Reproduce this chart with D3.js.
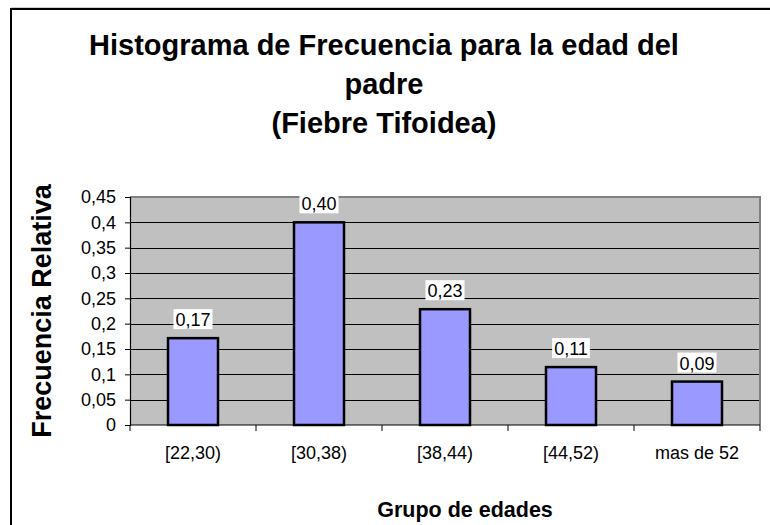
<!DOCTYPE html>
<html>
<head>
<meta charset="utf-8">
<script src="https://cdn.jsdelivr.net/npm/d3@7"></script>
<style>
  html, body { margin: 0; padding: 0; background: #fff; }
  svg { display: block; }
  text { font-family: "Liberation Sans", Arial, sans-serif; fill: #000; }
</style>
</head>
<body>
<svg id="chart" width="770" height="525"></svg>
<script>
// Age groups of the father and their relative frequency
const categories = ["[22,30)", "[30,38)", "[38,44)", "[44,52)", "mas de 52"];
const relFreq = [6 / 35, 14 / 35, 8 / 35, 4 / 35, 3 / 35];
const yTicks = [0, 0.05, 0.1, 0.15, 0.2, 0.25, 0.3, 0.35, 0.4, 0.45];
const titleLines = ["Histograma de Frecuencia para la edad del", "padre", "(Fiebre Tifoidea)"];

const svg = d3.select("#chart");
const plot = { left: 130, top: 197, right: 760, bottom: 425 };

const commaFmt = (digits) => (v) => d3.format("." + digits + "f")(v).replace(".", ",");
const tickFmt = (v) => String(+v.toFixed(2)).replace(".", ",");

// outer frame
svg.append("line").attr("x1", 11).attr("x2", 770).attr("y1", 7.5).attr("y2", 7.5)
  .attr("stroke", "#d0d0d0").attr("stroke-width", 1);
svg.append("path").attr("d", "M11,530 V9 H775").attr("fill", "none")
  .attr("stroke", "#000").attr("stroke-width", 2);

const xBand = d3.scaleBand().domain(categories).range([plot.left, plot.right]);
const y = d3.scaleLinear().domain([0, 0.45]).range([plot.bottom, plot.top]);
const cx = (c) => xBand(c) + xBand.bandwidth() / 2;

// plot background
svg.append("rect").attr("x", plot.left).attr("y", plot.top)
  .attr("width", plot.right - plot.left).attr("height", plot.bottom - plot.top)
  .attr("fill", "#c0c0c0");

// horizontal gridlines
svg.append("g").selectAll("line").data(yTicks.filter(d => d > 0 && d < 0.45)).join("line")
  .attr("x1", plot.left).attr("x2", plot.right)
  .attr("y1", d => Math.round(y(d)) + 0.5).attr("y2", d => Math.round(y(d)) + 0.5)
  .attr("stroke", "#000").attr("stroke-width", 1);

// plot border (top / right)
svg.append("path")
  .attr("d", `M${plot.left},${plot.top} H${plot.right} V${plot.bottom}`)
  .attr("fill", "none").attr("stroke", "#808080").attr("stroke-width", 2);

// bars
svg.append("g").selectAll("rect").data(relFreq).join("rect")
  .attr("x", (d, i) => cx(categories[i]) - 25)
  .attr("width", 50)
  .attr("y", d => y(d))
  .attr("height", d => y(0) - y(d))
  .attr("fill", "#9999ff").attr("stroke", "#000").attr("stroke-width", 2.5);

// y axis
const yAxis = d3.axisLeft(y).tickValues(yTicks).tickFormat(tickFmt).tickSizeOuter(0).tickSize(5).tickPadding(9);
const gy = svg.append("g").attr("transform", `translate(${plot.left},0)`).call(yAxis);
gy.select(".domain").attr("stroke", "#000").attr("stroke-width", 1.2);
gy.selectAll(".tick line").attr("stroke", "#000");
gy.selectAll(".tick text").attr("font-size", 18).attr("font-family", "Liberation Sans, Arial, sans-serif").attr("fill", "#000");

// x axis with ticks at category boundaries
const gx = svg.append("g").attr("transform", `translate(0,${plot.bottom})`);
gx.append("line").attr("x1", plot.left).attr("x2", plot.right).attr("y1", 0).attr("y2", 0)
  .attr("stroke", "#000").attr("stroke-width", 1.2);
const bounds = categories.map(c => xBand(c)).concat([plot.right]);
gx.selectAll("line.tk").data(bounds).join("line").attr("class", "tk")
  .attr("x1", d => d).attr("x2", d => d).attr("y1", 0).attr("y2", 6)
  .attr("stroke", "#000");
gx.selectAll("text").data(categories).join("text")
  .attr("x", d => cx(d))
  .attr("y", 34)
  .attr("text-anchor", "middle").attr("font-size", 18)
  .text(d => d);

// data labels with white boxes
const lbl = svg.append("g").selectAll("g").data(relFreq).join("g")
  .attr("transform", (d, i) => `translate(${cx(categories[i])},${y(d) - 12})`);
lbl.append("text").attr("text-anchor", "middle").attr("font-size", 18)
  .text(d => commaFmt(2)(d));
lbl.each(function () {
  const g = d3.select(this);
  const bb = g.select("text").node().getBBox();
  g.insert("rect", "text").attr("x", bb.x - 2).attr("y", -17).attr("width", bb.width + 4)
    .attr("height", 20).attr("fill", "#fff");
});

// titles
svg.append("g").selectAll("text").data(titleLines).join("text")
  .attr("x", 384).attr("y", (d, i) => 55 + i * 39)
  .attr("text-anchor", "middle").attr("font-size", 29).attr("font-weight", "bold")
  .text(d => d);

svg.append("text")
  .attr("transform", `translate(51,${(plot.top + plot.bottom) / 2}) rotate(-90)`)
  .attr("text-anchor", "middle").attr("font-size", 27).attr("font-weight", "bold")
  .text("Frecuencia Relativa");

svg.append("text").attr("x", 465).attr("y", 517)
  .attr("text-anchor", "middle").attr("font-size", 21.5).attr("font-weight", "bold")
  .text("Grupo de edades");
</script>
</body>
</html>
